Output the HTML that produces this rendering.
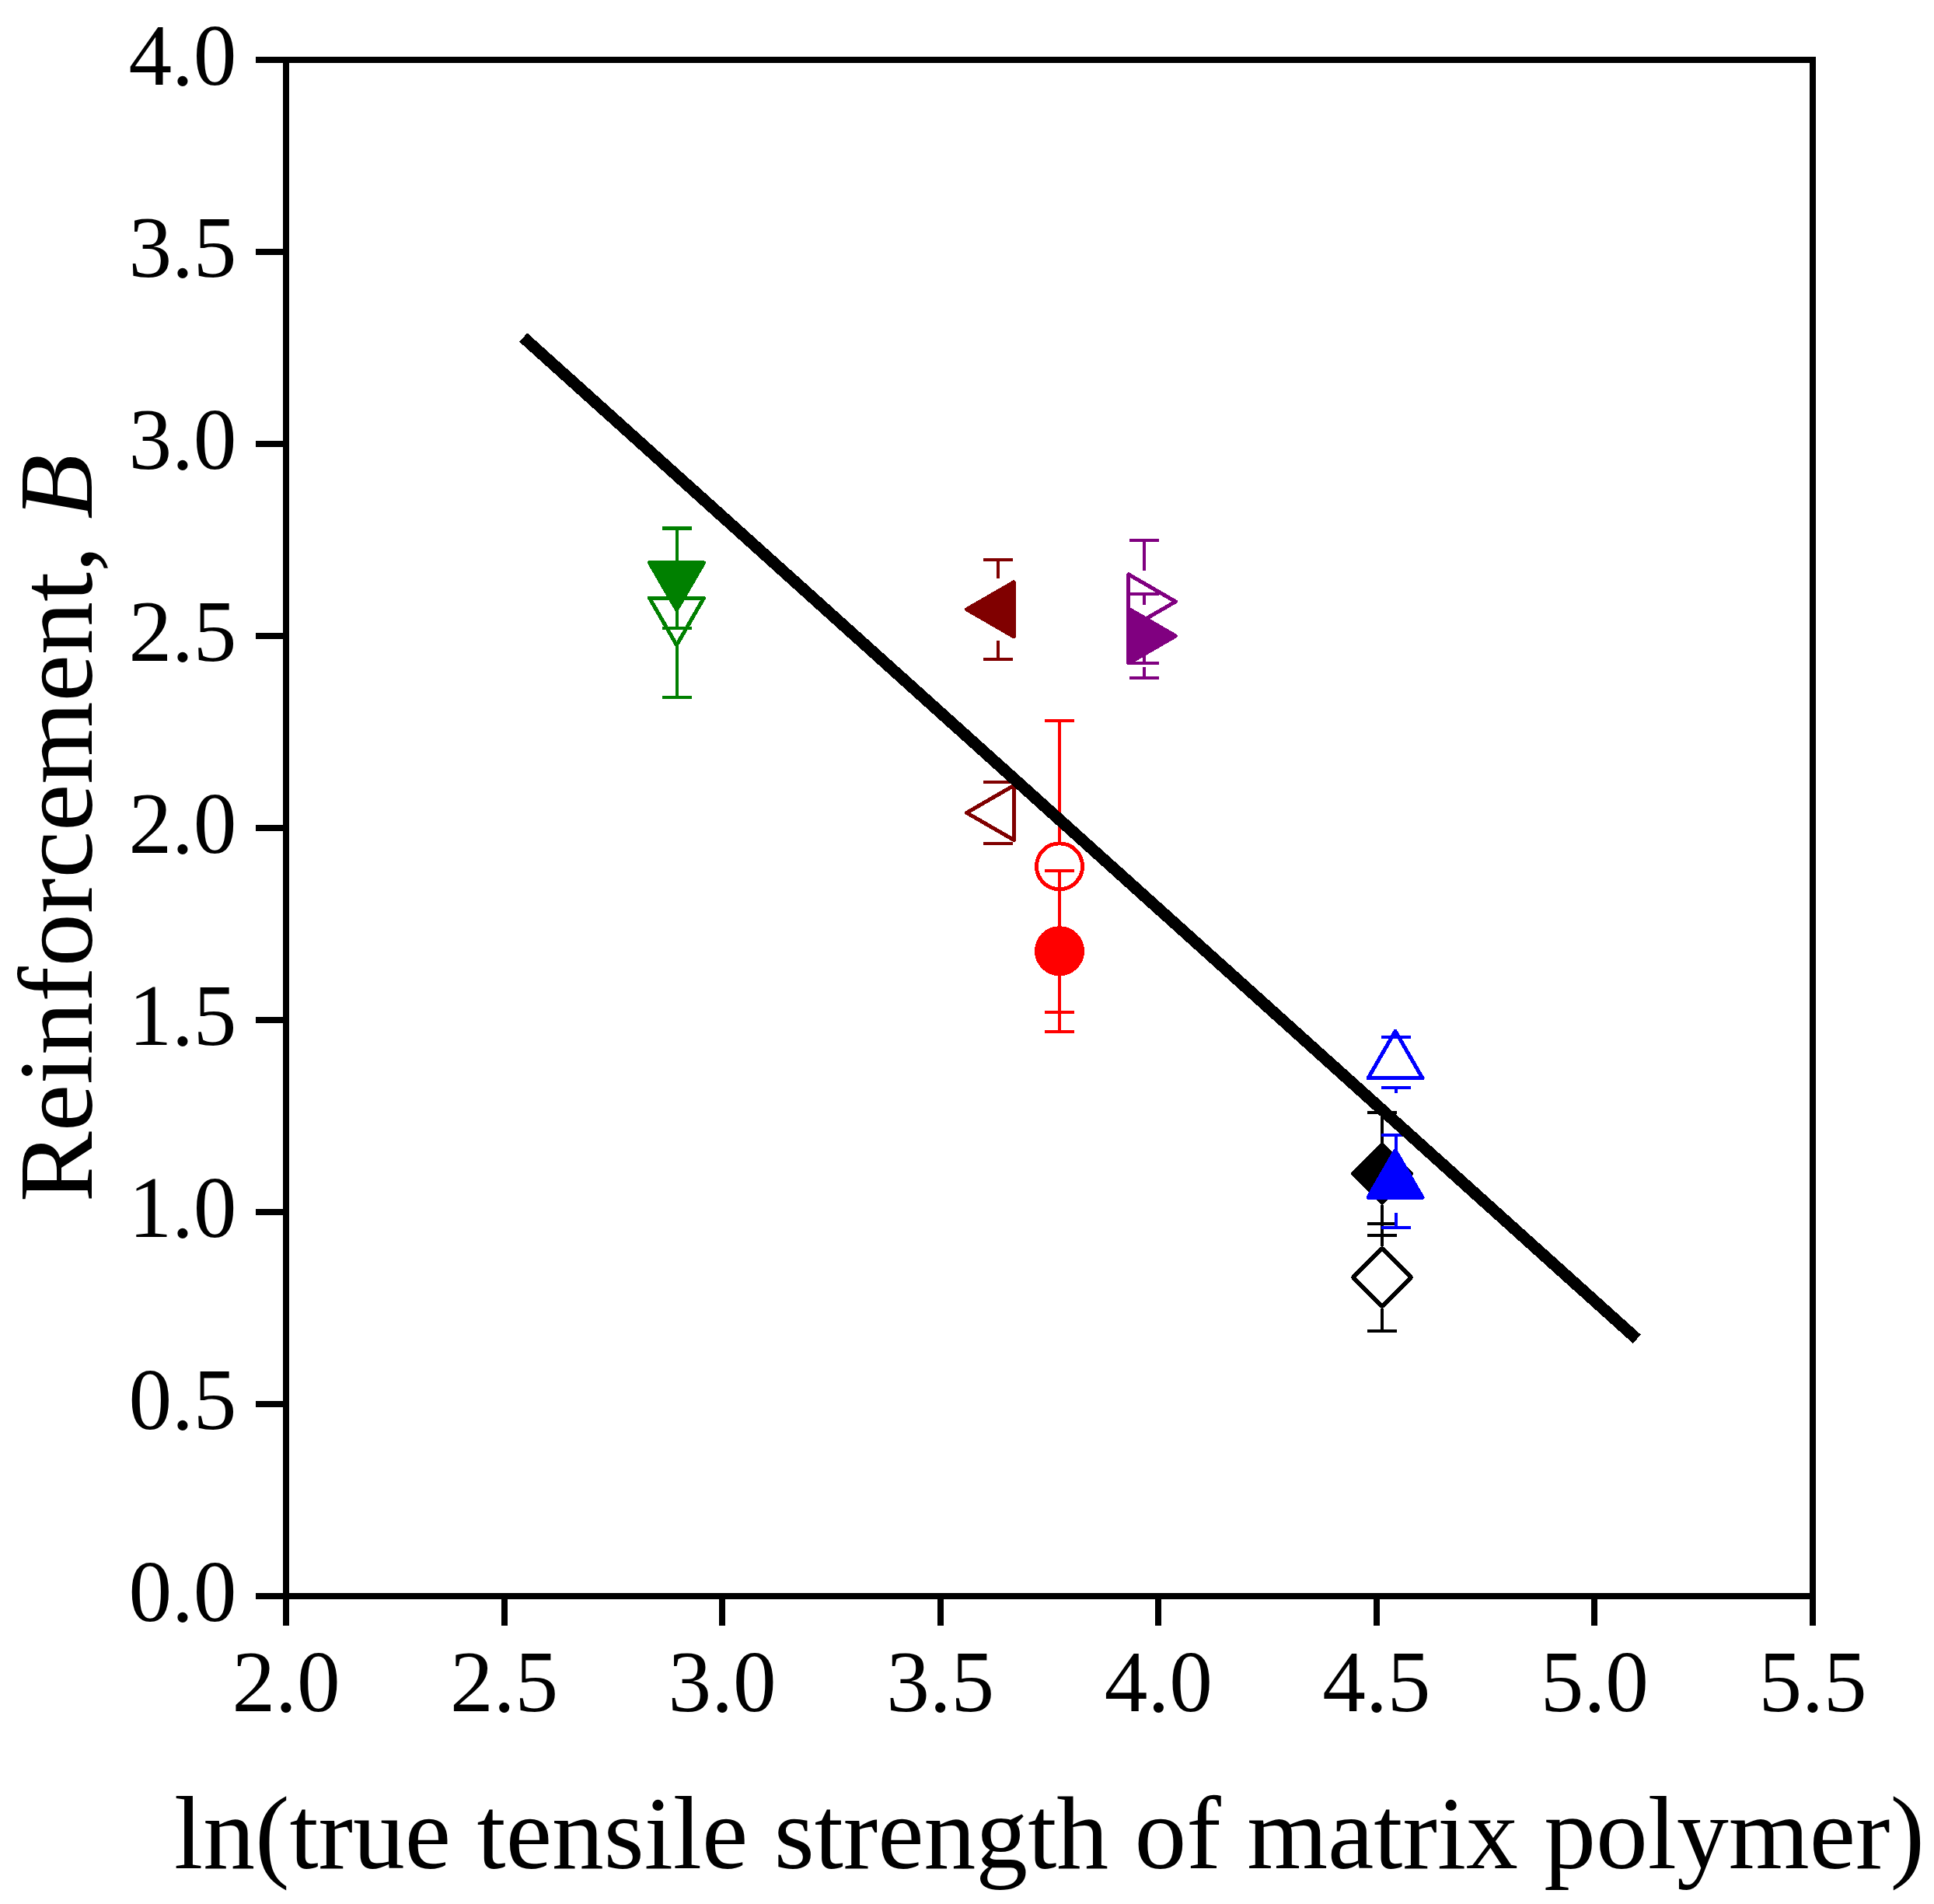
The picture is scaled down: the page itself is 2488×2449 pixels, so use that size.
<!DOCTYPE html>
<html lang="en"><head><meta charset="utf-8"><title>Reinforcement vs ln(true tensile strength of matrix polymer)</title>
<style>
html,body{margin:0;padding:0;background:#fff;}
body{width:2488px;height:2449px;overflow:hidden;}
svg{display:block;}
text{font-family:"Liberation Serif","Times New Roman",serif;fill:#000;}
.tk{font-size:111.3px;}
.tt{font-size:133.6px;}
</style></head><body>
<svg width="2488" height="2449" viewBox="0 0 2488 2449" shape-rendering="crispEdges">
<rect x="0" y="0" width="2488" height="2449" fill="#fff"/>
<g stroke="#000" stroke-width="8" fill="none" stroke-linecap="butt">
<rect x="368" y="77" width="1964" height="1976"/>
<line x1="329" y1="2053.0" x2="368" y2="2053.0"/>
<line x1="329" y1="1806.0" x2="368" y2="1806.0"/>
<line x1="329" y1="1559.0" x2="368" y2="1559.0"/>
<line x1="329" y1="1312.0" x2="368" y2="1312.0"/>
<line x1="329" y1="1065.0" x2="368" y2="1065.0"/>
<line x1="329" y1="818.0" x2="368" y2="818.0"/>
<line x1="329" y1="571.0" x2="368" y2="571.0"/>
<line x1="329" y1="324.0" x2="368" y2="324.0"/>
<line x1="329" y1="77.0" x2="368" y2="77.0"/>
<line x1="368.0" y1="2053" x2="368.0" y2="2091"/>
<line x1="648.6" y1="2053" x2="648.6" y2="2091"/>
<line x1="929.1" y1="2053" x2="929.1" y2="2091"/>
<line x1="1209.7" y1="2053" x2="1209.7" y2="2091"/>
<line x1="1490.3" y1="2053" x2="1490.3" y2="2091"/>
<line x1="1770.9" y1="2053" x2="1770.9" y2="2091"/>
<line x1="2051.4" y1="2053" x2="2051.4" y2="2091"/>
<line x1="2332.0" y1="2053" x2="2332.0" y2="2091"/>
</g>
<g class="tk">
<text x="304.5" y="2085.0" text-anchor="end">0.0</text>
<text x="304.5" y="1838.0" text-anchor="end">0.5</text>
<text x="304.5" y="1591.0" text-anchor="end">1.0</text>
<text x="304.5" y="1344.0" text-anchor="end">1.5</text>
<text x="304.5" y="1097.0" text-anchor="end">2.0</text>
<text x="304.5" y="850.0" text-anchor="end">2.5</text>
<text x="304.5" y="603.0" text-anchor="end">3.0</text>
<text x="304.5" y="356.0" text-anchor="end">3.5</text>
<text x="304.5" y="109.0" text-anchor="end">4.0</text>
<text x="368.0" y="2201" text-anchor="middle">2.0</text>
<text x="648.6" y="2201" text-anchor="middle">2.5</text>
<text x="929.1" y="2201" text-anchor="middle">3.0</text>
<text x="1209.7" y="2201" text-anchor="middle">3.5</text>
<text x="1490.3" y="2201" text-anchor="middle">4.0</text>
<text x="1770.9" y="2201" text-anchor="middle">4.5</text>
<text x="2051.4" y="2201" text-anchor="middle">5.0</text>
<text x="2332.0" y="2201" text-anchor="middle">5.5</text>
</g>
<text class="tt" x="1350" y="2402.8" text-anchor="middle">ln(true tensile strength of matrix polymer)</text>
<text class="tt" style="font-size:136.4px" transform="translate(118,1065.3) rotate(-90)" text-anchor="middle">Reinforcement, <tspan font-style="italic">B</tspan></text>
<g shape-rendering="crispEdges">
<g stroke="#008000" fill="none"><path stroke-width="4" d="M851.5 679.0H889.5 M851.5 897.0H889.5 M870.5 679.0V748.0 M870.5 828.0V897.0"/><polygon points="870.5,829.7 905.5,769.1 835.5,769.1" stroke-width="5" stroke-linejoin="round"/></g>
<g stroke="#008000" fill="none"><path stroke-width="4" d="M851.5 680.0H889.5 M851.5 808.0H889.5 M870.5 680.0V704.0 M870.5 784.0V808.0"/><polygon points="870.5,784.4 905.5,723.8 835.5,723.8" stroke-width="5" stroke-linejoin="round" fill="#008000"/></g>
<g stroke="#800000" fill="none"><path stroke-width="4" d="M1265.0 1005.9H1303.0 M1265.0 1084.9H1303.0 M1284.0 1005.9V1005.4 M1284.0 1085.4V1084.9"/><polygon points="1243.6,1045.4 1304.2,1010.4 1304.2,1080.4" stroke-width="5" stroke-linejoin="round"/></g>
<g stroke="#800000" fill="none"><path stroke-width="4" d="M1265.0 719.8H1303.0 M1265.0 847.8H1303.0 M1284.0 719.8V743.8 M1284.0 823.8V847.8"/><polygon points="1243.6,783.8 1304.2,748.8 1304.2,818.8" stroke-width="5" stroke-linejoin="round" fill="#800000"/></g>
<g stroke="#ff0000" fill="none"><path stroke-width="4" d="M1344.0 926.8H1382.0 M1344.0 1301.8H1382.0 M1363.0 926.8V1082.3 M1363.0 1146.3V1301.8"/><circle cx="1363.0" cy="1114.3" r="29.5" stroke-width="5"/></g>
<g stroke="#ff0000" fill="none"><path stroke-width="4" d="M1344.0 1119.6H1382.0 M1344.0 1326.8H1382.0 M1363.0 1119.6V1191.2 M1363.0 1255.2V1326.8"/><circle cx="1363.0" cy="1223.2" r="29.5" stroke-width="5" fill="#ff0000"/></g>
<g stroke="#800080" fill="none"><path stroke-width="4" d="M1453.0 694.8H1491.0 M1453.0 852.8H1491.0 M1472.0 694.8V733.8 M1472.0 813.8V852.8"/><polygon points="1512.4,773.8 1451.8,738.8 1451.8,808.8" stroke-width="5" stroke-linejoin="round"/></g>
<g stroke="#800080" fill="none"><path stroke-width="4" d="M1453.0 764.0H1491.0 M1453.0 872.0H1491.0 M1472.0 764.0V778.0 M1472.0 858.0V872.0"/><polygon points="1512.4,818.0 1451.8,783.0 1451.8,853.0" stroke-width="5" stroke-linejoin="round" fill="#800080"/></g>
<g stroke="#000000" fill="none"><path stroke-width="4" d="M1759.0 1574.0H1797.0 M1759.0 1712.0H1797.0 M1778.0 1574.0V1603.0 M1778.0 1683.0V1712.0"/><polygon points="1778.0,1605.5 1815.5,1643.0 1778.0,1680.5 1740.5,1643.0" stroke-width="5" stroke-linejoin="round"/></g>
<g stroke="#000000" fill="none"><path stroke-width="4" d="M1759.0 1430.5H1797.0 M1759.0 1589.1H1797.0 M1778.0 1430.5V1469.8 M1778.0 1549.8V1589.1"/><polygon points="1778.0,1472.3 1815.5,1509.8 1778.0,1547.3 1740.5,1509.8" stroke-width="5" stroke-linejoin="round" fill="#000000"/></g>
<g stroke="#0000ff" fill="none"><path stroke-width="4" d="M1777.0 1333.6H1815.0 M1777.0 1399.0H1815.0 M1796.0 1333.6V1326.3 M1796.0 1406.3V1399.0"/><polygon points="1795.0,1326.2 1830.0,1386.8 1760.0,1386.8" stroke-width="5" stroke-linejoin="round"/></g>
<g stroke="#0000ff" fill="none"><path stroke-width="4" d="M1777.0 1460.0H1815.0 M1777.0 1579.0H1815.0 M1796.0 1460.0V1479.5 M1796.0 1559.5V1579.0"/><polygon points="1795.0,1479.7 1830.0,1540.3 1760.0,1540.3" stroke-width="5" stroke-linejoin="round" fill="#0000ff"/></g>
<line x1="673.2" y1="434" x2="2105.8" y2="1722.3" stroke="#000" stroke-width="15.2"/>
</g>
</svg></body></html>
